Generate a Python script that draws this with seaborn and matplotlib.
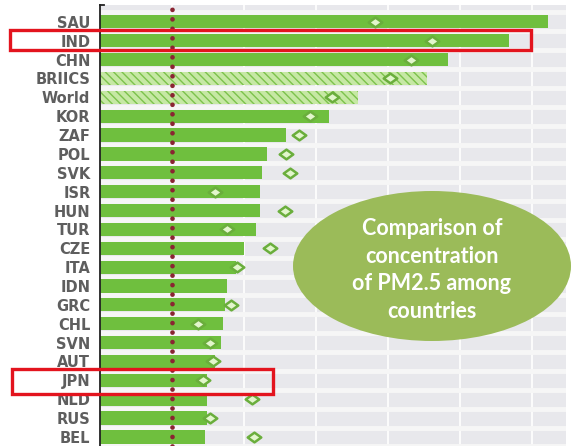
import numpy as np
import pandas as pd
import seaborn as sns
import matplotlib.pyplot as plt
from matplotlib.patches import Rectangle, Ellipse
from matplotlib.path import Path

countries = ["SAU", "IND", "CHN", "BRIICS", "World", "KOR", "ZAF", "POL", "SVK", "ISR",
             "HUN", "TUR", "CZE", "ITA", "IDN", "GRC", "CHL", "SVN", "AUT", "JPN",
             "NLD", "RUS", "BEL"]
# recent PM2.5 exposure (bars) and earlier value (diamonds)
pm25_recent = [62.2, 56.7, 48.3, 45.4, 35.8, 31.7, 25.8, 23.2, 22.5, 22.2,
               22.2, 21.7, 20.0, 18.8, 17.6, 17.4, 17.1, 16.8, 16.0, 14.9,
               14.9, 14.9, 14.6]
pm25_earlier = [38.2, 46.1, 43.2, 40.3, 32.2, 29.2, 27.6, 25.8, 26.4, 16.0,
                25.6, 17.6, 23.6, 19.0, np.nan, 18.1, 13.6, 15.3, 15.7, 14.3,
                21.1, 15.3, 21.3]
who_guideline = 10
hatched = ["BRIICS", "World"]

df = pd.DataFrame({"country": countries, "recent": pm25_recent, "earlier": pm25_earlier})

plt.rcParams['font.family'] = ['DejaVu Sans']
fig = plt.figure(figsize=(5.72, 4.46), dpi=100)
ax = fig.add_axes([0.175, 0.0, 0.815, 0.989])
ax.set_facecolor("#e8e8ec")

sns.barplot(data=df, x="recent", y="country", order=countries, orient="h",
            color="#6fbf3e", saturation=1, width=0.7, ax=ax, zorder=2)

for patch, c in zip(ax.patches, countries):
    patch.set_edgecolor("none")
    if c in hatched:
        patch.set_facecolor("#c6e8a4")
        patch.set_hatch("\\\\\\\\")
        patch.set_edgecolor("#7cc24c")
        patch.set_linewidth(0)

# wide diamond marker
diamond = Path([(-1, 0), (0, 0.72), (1, 0), (0, -0.72), (-1, 0)],
               [Path.MOVETO, Path.LINETO, Path.LINETO, Path.LINETO, Path.CLOSEPOLY])
sns.scatterplot(data=df.dropna(), x="earlier", y="country", marker=diamond, s=95,
                color="#e2f6cc", edgecolor="#6aae3c", linewidth=1.8, ax=ax, zorder=4)

ax.axvline(who_guideline, color="#8a2432", lw=3.4, ls=(0, (0.01, 2.0)),
           dash_capstyle="round", zorder=5)

ax.set_xlim(0, 64.7)
ax.set_ylim(len(countries) - 0.52, -0.9)
for x in range(10, 70, 10):
    ax.axvline(x, color="white", lw=1.2, zorder=1)
for y in np.arange(-0.5, len(countries), 1):
    ax.axhline(y, color="#f6f6f6", lw=3.5, zorder=1)
# small cap tick at the top of the axis
ax.plot([0, 0.6], [-0.9, -0.9], color="#222222", lw=1.3, clip_on=False, zorder=6)

ax.set_xlabel("")
ax.set_ylabel("")
ax.set_xticks([])
ax.tick_params(axis="y", direction="in", length=4, width=1.2, color="#333333",
               labelsize=10.5, labelcolor="#5e5e5e", pad=7)
for lab in ax.get_yticklabels():
    lab.set_fontweight("bold")
for s in ["top", "right", "bottom"]:
    ax.spines[s].set_visible(False)
ax.spines["left"].set_color("#222222")
ax.spines["left"].set_linewidth(1.3)

# red highlight boxes (figure pixels)
W, H = 572, 446
def box(x0, y0, x1, y1):
    fig.patches.append(Rectangle((x0 / W, 1 - y1 / H), (x1 - x0) / W, (y1 - y0) / H,
                                 transform=fig.transFigure, fill=False,
                                 edgecolor="#e3141e", lw=2.4, zorder=10))
box(10, 30, 531, 50)
box(12, 369, 273, 394)

fig.patches.append(Ellipse((432 / W, 1 - 266 / H), 278 / W, 150 / H,
                           transform=fig.transFigure, facecolor="#9bbb59",
                           edgecolor="none", zorder=10))
fig.text(432 / W, 1 - 270 / H, "Comparison of\nconcentration\nof PM2.5 among\ncountries",
         ha="center", va="center", color="white", fontsize=15.5, fontweight="bold",
         family=["Lato", "DejaVu Sans"], linespacing=1.38, zorder=11)

fig.savefig("out.png", dpi=100)
